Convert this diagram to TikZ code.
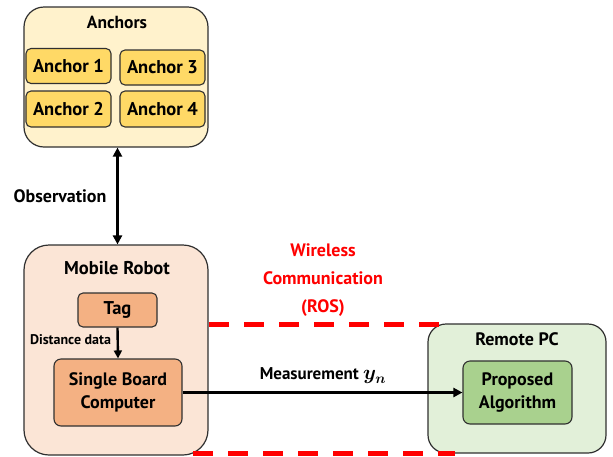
\documentclass[tikz,border=0pt]{standalone}
\usepackage{fontspec}
\setmainfont{PT Sans}
\usepackage{bm}
\usetikzlibrary{arrows.meta}
\definecolor{anchOut}{HTML}{FFF2CC}
\definecolor{anchIn}{HTML}{FFD966}
\definecolor{robOut}{HTML}{FBE5D6}
\definecolor{robIn}{HTML}{F4B183}
\definecolor{pcOut}{HTML}{E2F0D9}
\definecolor{pcIn}{HTML}{A9D18E}
\definecolor{edge}{HTML}{303030}
\definecolor{wred}{HTML}{FF0000}
\newcommand{\fs}[2]{\fontsize{#1}{#2}\selectfont\bfseries}
\tikzset{
  outerbox/.style={draw=edge, line width=1.2pt, rounded corners=20pt, inner sep=0pt},
  innerbox/.style={draw=edge, line width=1.1pt, rounded corners=5pt, inner sep=0pt, align=center},
  title/.style={font=\fs{17.5}{21}, inner sep=0pt},
  lbl/.style={font=\fs{18.5}{22}},
  bigarrow/.style={line width=2.6pt, -{Triangle[length=9pt,width=9pt]}},
  reddash/.style={wred, line width=5pt, dash pattern=on 20pt off 15pt}
}
\begin{document}
\begin{tikzpicture}[x=1pt,y=-1pt]
\useasboundingbox (0,0) rectangle (613,456);
% Anchors
\node[outerbox, fill=anchOut, minimum width=184pt, minimum height=140pt] (anchors) at (116,77) {};
\node[title] (anchorsT) at (117,22) {Anchors};
\node[innerbox, fill=anchIn, minimum width=85pt, minimum height=35pt, lbl] (a1) at (68.5,66) {Anchor 1};
\node[innerbox, fill=anchIn, minimum width=85pt, minimum height=35pt, lbl] (a3) at (162.5,67.5) {Anchor 3};
\node[innerbox, fill=anchIn, minimum width=85pt, minimum height=36pt, lbl] (a2) at (68.5,109) {Anchor 2};
\node[innerbox, fill=anchIn, minimum width=85pt, minimum height=36pt, lbl] (a4) at (162.5,109) {Anchor 4};
% Mobile robot
\node[outerbox, rounded corners=25pt, fill=robOut, minimum width=184pt, minimum height=210pt] (robot) at (116,350) {};
\node[title, font=\fs{18.5}{22}] (robotT) at (117,268) {Mobile Robot};
\node[innerbox, fill=robIn, minimum width=79pt, minimum height=34pt, lbl] (tag) at (117.5,310) {Tag};
\node[innerbox, fill=robIn, minimum width=128pt, minimum height=67pt, font=\fs{18}{23}, rounded corners=7pt] (sbc) at (118,392.5) {Single Board\\Computer};
% Remote PC
\node[outerbox, rounded corners=18pt, fill=pcOut, minimum width=178pt, minimum height=129pt] (pc) at (517,388.5) {};
\node[title, font=\fs{18}{21}] (pcT) at (517,339) {Remote PC};
\node[innerbox, fill=pcIn, minimum width=109pt, minimum height=63pt, font=\fs{18}{23}, rounded corners=7pt] (pa) at (517.5,392.5) {Proposed\\Algorithm};
% red dashed lines
\coordinate (d1a) at (209,324); \coordinate (d1b) at (440,324);
\coordinate (d2a) at (193,453); \coordinate (d2b) at (455,453);
\draw[reddash] (d1a) -- (d1b);
\draw[reddash] (d2a) -- (d2b);
% wireless text
\node[font=\fs{18}{21}, text=wred, align=center, inner sep=0pt] (wl) at (323,280) {Wireless\\[7pt]Communication\\[7pt](ROS)};
% arrows
\draw[bigarrow, {Triangle[length=9pt,width=9pt]}-{Triangle[length=9pt,width=9pt]}] (anchors.south -| tag.center) -- (robot.north -| tag.center);
\node[font=\fs{18}{21}, inner sep=0pt] (obs) at (60,196) {Observation};
\draw[line width=2.4pt, -{Triangle[length=8pt,width=8pt]}] (tag.south) -- (sbc.north);
\node[font=\fs{14}{17}, inner sep=0pt] (dist) at (70.5,340) {Distance data};
\draw[bigarrow] (sbc.east) -- (pa.west);
\node[font=\fs{17}{20}, inner sep=0pt] (meas) at (323,376) {Measurement {\fontsize{20}{22}\selectfont\boldmath$y_n$}};
\end{tikzpicture}
\end{document}
